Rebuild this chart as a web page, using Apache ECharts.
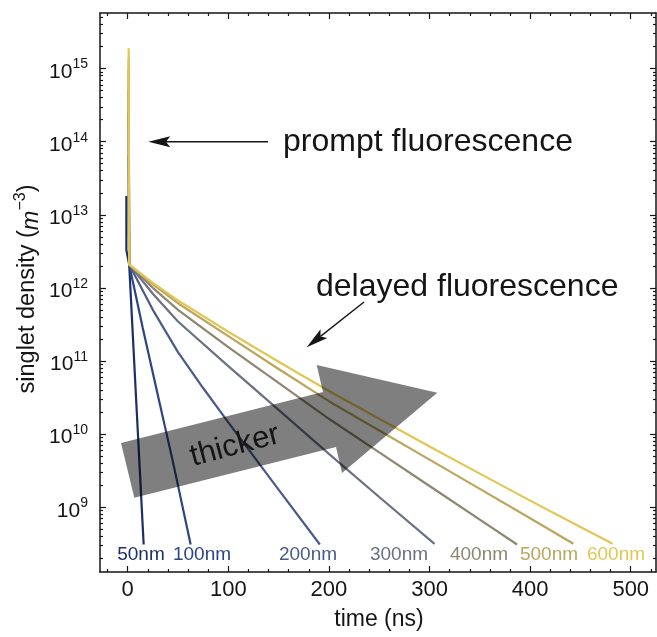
<!DOCTYPE html>
<html>
<head>
<meta charset="utf-8">
<script src="https://cdn.jsdelivr.net/npm/echarts@6/dist/echarts.min.js"></script>
<style>
  html, body { margin: 0; padding: 0; background: #fff; }
  #chart { width: 657px; height: 637px; }
</style>
</head>
<body>
<div id="chart"></div>
<script>
// Singlet density decay after excitation, for several film thicknesses.
const thicknessLabels = ['50nm', '100nm', '200nm', '300nm', '400nm', '500nm', '600nm'];

// time (ns) / singlet density (m^-3) per film thickness
const time50 = [-1.3, -1.3, 1.5, 8.7, 15.9];
const dens50 = [1.8e13, 3.3e12, 2.09e12, 2.51e10, 3.09e8];

const time100 = [1, 1.5, 15, 30, 45, 62.6];
const dens100 = [6.5e13, 2.09e12, 2.82e11, 3.39e10, 4.17e9, 3.09e8];

const time200 = [1, 1.5, 25, 50, 75, 100, 150, 191];
const dens200 = [2.4e14, 2.09e12, 5.01e11, 1.32e11, 4.27e10, 1.45e10, 1.74e9, 3.09e8];

const time300 = [1, 1.5, 25, 50, 100, 150, 200, 250, 305];
const dens300 = [5.2e14, 2.09e12, 8.32e11, 3.47e11, 8.51e10, 2.14e10, 5.37e9, 1.38e9, 3.16e8];

const time400 = [1, 1.5, 25, 50, 100, 150, 200, 250, 300, 350, 387];
const dens400 = [9.5e14, 2.09e12, 1.0e12, 5.01e11, 1.55e11, 5.01e10, 1.62e10, 5.62e9, 1.95e9, 6.76e8, 3.09e8];

const time500 = [1, 1.5, 25, 50, 100, 150, 200, 250, 300, 350, 400, 443];
const dens500 = [1.4e15, 2.09e12, 1.12e12, 6.17e11, 2.19e11, 7.76e10, 2.82e10, 1.12e10, 4.47e9, 1.78e9, 7.08e8, 3.16e8];

const time600 = [1, 1.5, 25, 50, 100, 150, 200, 250, 300, 350, 400, 450, 482];
const dens600 = [1.9e15, 2.09e12, 1.17e12, 6.76e11, 2.51e11, 9.77e10, 3.89e10, 1.62e10, 6.76e9, 2.88e9, 1.23e9, 5.37e8, 3.16e8];

// axis tick values
const timeTicks = [0, 100, 200, 300, 400, 500];
const densityTicks = [1e9, 1e10, 1e11, 1e12, 1e13, 1e14, 1e15];

const seriesTimes = [time50, time100, time200, time300, time400, time500, time600];
const seriesDens = [dens50, dens100, dens200, dens300, dens400, dens500, dens600];

// ---- styling ----
const lineColors = ['#1d2f68', '#2b4581', '#4a5b88', '#6b7084', '#8e8670', '#bca55d', '#e2c654'];
const FONT = '"Liberation Sans", Arial, Helvetica, sans-serif';
const INK = '#151515';
const X_MIN = -27.5, X_MAX = 525.1;
const Y_MIN = 1.30e8, Y_MAX = 5.75e15;

// minor tick positions
const timeMinor = [];
for (let t = -20; t <= 520; t += 20) if (t % 100 !== 0) timeMinor.push(t);
const densMinor = [];
for (let e = 8; e <= 15; e++) for (let k = 2; k <= 9; k++) {
  const v = k * Math.pow(10, e);
  if (v > Y_MIN && v < Y_MAX) densMinor.push(v);
}

function xAxisDef(position, major, showLine) {
  return {
    type: 'value', position: position, min: X_MIN, max: X_MAX, gridIndex: 0,
    axisLine: { show: showLine, onZero: false, lineStyle: { color: INK, width: 1.5 } },
    axisTick: { show: true, inside: true, length: major ? 6 : 3,
      customValues: major ? timeTicks : timeMinor,
      lineStyle: { color: INK, width: 1.2 } },
    axisLabel: position === 'bottom' && major ? {
      show: true, customValues: timeTicks, margin: 7,
      fontSize: 22, fontFamily: FONT, color: INK
    } : { show: false },
    splitLine: { show: false }
  };
}

function yAxisDef(position, major, showLine) {
  return {
    type: 'log', logBase: 10, position: position, min: Y_MIN, max: Y_MAX, gridIndex: 0,
    axisLine: { show: showLine, onZero: false, lineStyle: { color: INK, width: 1.5 } },
    axisTick: { show: true, inside: true, length: major ? 6 : 3,
      customValues: major ? densityTicks : densMinor,
      lineStyle: { color: INK, width: 1.2 } },
    axisLabel: position === 'left' && major ? {
      show: true, customValues: densityTicks, margin: 12,
      formatter: function (v) {
        return '{b|10}{s|' + Math.round(Math.log10(v)) + '}';
      },
      rich: {
        b: { fontSize: 21, fontFamily: FONT, color: INK, lineHeight: 30, verticalAlign: 'bottom', padding: [0, 0, 1, 0] },
        s: { fontSize: 14, fontFamily: FONT, color: INK, lineHeight: 30, verticalAlign: 'top', padding: [4, 0, 0, 0] }
      }
    } : { show: false },
    splitLine: { show: false }
  };
}

const series = seriesTimes.map(function (ts, i) {
  return {
    name: thicknessLabels[i],
    type: 'line',
    xAxisIndex: 0, yAxisIndex: 0,
    data: ts.map(function (t, j) { return [t, seriesDens[i][j]]; }),
    showSymbol: false, symbol: 'none',
    lineStyle: { color: lineColors[i], width: 2.2 },
    z: 2 + i,
    animation: false
  };
});

// thickness labels along the bottom of the plot
const labelCenters = [141, 202, 308, 399, 479, 549, 616];
const graphics = labelCenters.map(function (x, i) {
  return {
    type: 'text', x: x, y: 555, z: 100,
    style: { text: thicknessLabels[i], fill: lineColors[i], font: '19px ' + FONT,
      align: 'center', verticalAlign: 'middle' }
  };
});

function arrow(x1, y1, x2, y2, len, half) {
  const dx = x2 - x1, dy = y2 - y1, L = Math.hypot(dx, dy);
  const ux = dx / L, uy = dy / L, nx = -uy, ny = ux;
  const bx = x2 - ux * len, by = y2 - uy * len;
  const mx = x2 - ux * len * 0.8, my = y2 - uy * len * 0.8;
  return [
    { type: 'line', z: 100, shape: { x1: x1, y1: y1, x2: mx, y2: my },
      style: { stroke: INK, lineWidth: 1.4 } },
    { type: 'polygon', z: 100,
      shape: { points: [[x2, y2], [bx + nx * half, by + ny * half], [mx, my], [bx - nx * half, by - ny * half]] },
      style: { fill: INK } }
  ];
}

graphics.push.apply(graphics, arrow(268, 141.7, 148.3, 141.7, 22, 5.5));
graphics.push.apply(graphics, arrow(364, 302, 306.7, 347.3, 22, 5.5));

graphics.push(
  { type: 'text', x: 283, y: 142, z: 100,
    style: { text: 'prompt fluorescence', fill: INK, font: '32px ' + FONT, align: 'left', verticalAlign: 'middle' } },
  { type: 'text', x: 316, y: 287, z: 100,
    style: { text: 'delayed fluorescence', fill: INK, font: '32px ' + FONT, align: 'left', verticalAlign: 'middle' } },
  // broad translucent arrow
  { type: 'polygon', z: 101,
    shape: { points: [[121, 443], [323, 392], [316.7, 365], [437.3, 392.7], [342, 473], [336, 447], [134.3, 497.7]] },
    style: { fill: 'rgba(0,0,0,0.5)' } },
  { type: 'text', x: 235, y: 446, z: 102, rotation: 15 * Math.PI / 180,
    style: { text: 'thicker', fill: INK, font: '31px ' + FONT, align: 'center', verticalAlign: 'middle' } },
  // axis titles
  { type: 'text', x: 379, y: 620, z: 100,
    style: { text: 'time (ns)', fill: INK, font: '23px ' + FONT, align: 'center', verticalAlign: 'middle' } },
  { type: 'text', x: 28, y: 289, z: 100, rotation: Math.PI / 2,
    style: {
      text: 'singlet density ({i|m}{sup|−3})',
      fill: INK, font: '23.5px ' + FONT, align: 'center', verticalAlign: 'middle',
      rich: {
        i: { fontStyle: 'italic', fontSize: 23.5, fontFamily: FONT, fill: INK, lineHeight: 30, verticalAlign: 'bottom' },
        sup: { fontSize: 16, fontFamily: FONT, fill: INK, lineHeight: 30, verticalAlign: 'top' }
      }
    } }
);

const chart = echarts.init(document.getElementById('chart'), null, { renderer: 'canvas' });
chart.setOption({
  animation: false,
  backgroundColor: '#fff',
  textStyle: { fontFamily: FONT },
  grid: { left: 100, right: 1, top: 13, bottom: 65, containLabel: false },
  xAxis: [
    xAxisDef('bottom', true, true),
    xAxisDef('bottom', false, false),
    xAxisDef('top', true, true),
    xAxisDef('top', false, false)
  ],
  yAxis: [
    yAxisDef('left', true, true),
    yAxisDef('left', false, false),
    yAxisDef('right', true, true),
    yAxisDef('right', false, false)
  ],
  series: series,
  graphic: graphics
});
</script>
</body>
</html>
